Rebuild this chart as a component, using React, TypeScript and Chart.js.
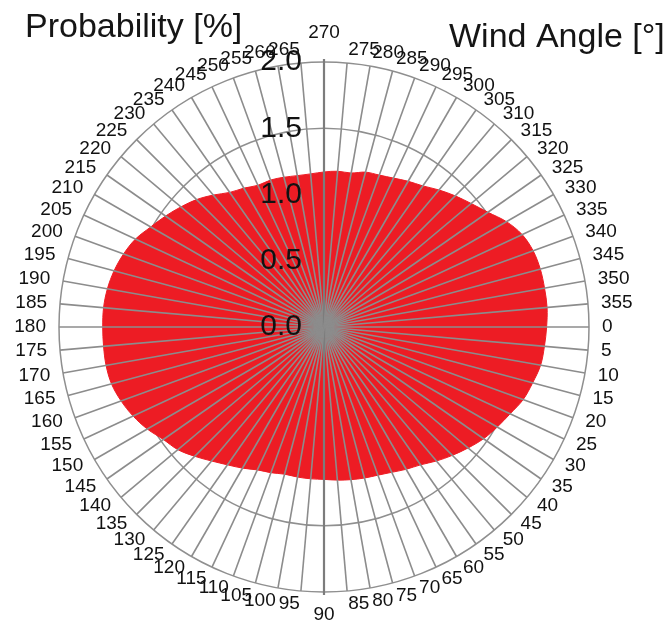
import React, { useEffect, useRef } from 'react';
import { Chart, registerables } from 'chart.js';

Chart.register(...registerables);

// Wind direction sectors, every 5 degrees, 0 pointing right and turning clockwise
const windAngles: string[] = [
  '0', '5', '10', '15', '20', '25', '30', '35', '40', '45', '50', '55',
  '60', '65', '70', '75', '80', '85', '90', '95', '100', '105', '110', '115',
  '120', '125', '130', '135', '140', '145', '150', '155', '160', '165', '170', '175',
  '180', '185', '190', '195', '200', '205', '210', '215', '220', '225', '230', '235',
  '240', '245', '250', '255', '260', '265', '270', '275', '280', '285', '290', '295',
  '300', '305', '310', '315', '320', '325', '330', '335', '340', '345', '350', '355',
];

// Probability of each wind direction [%]
const probability: number[] = [
  1.68, 1.67, 1.66, 1.63, 1.60, 1.55, 1.51, 1.47, 1.42, 1.37, 1.32, 1.27,
  1.24, 1.21, 1.19, 1.18, 1.17, 1.16, 1.15, 1.15, 1.15, 1.15, 1.17, 1.19,
  1.23, 1.27, 1.32, 1.38, 1.44, 1.48, 1.54, 1.59, 1.63, 1.66, 1.67, 1.67,
  1.67, 1.67, 1.66, 1.64, 1.61, 1.57, 1.51, 1.46, 1.41, 1.36, 1.30, 1.24,
  1.21, 1.18, 1.18, 1.17, 1.16, 1.16, 1.17, 1.18, 1.18, 1.21, 1.22, 1.24,
  1.27, 1.30, 1.35, 1.40, 1.45, 1.51, 1.59, 1.65, 1.68, 1.69, 1.69, 1.69,
];

// Radial axis
const radialTicks: number[] = [0, 0.5, 1.0, 1.5, 2.0];
const radialTickLabels: string[] = ['0.0', '0.5', '1.0', '1.5', '2.0'];

const radialTitle = 'Probability [%]';
const angleTitle = 'Wind Angle [°]';

const FONT = '"Liberation Sans", Arial, Helvetica, sans-serif';

const roseOverlay = {
  id: 'roseOverlay',
  afterDatasetsDraw(chart: any) {
    const r = chart.scales.r;
    const ctx: CanvasRenderingContext2D = chart.ctx;
    const cx = r.xCenter;
    const cy = r.yCenter;
    const R = r.drawingArea;
    const labels: string[] = chart.data.labels;

    ctx.save();

    // spokes over the filled area
    labels.forEach((lab, i) => {
      const axis = lab === '90' || lab === '270';
      const p = r.getPointPosition(i, axis ? R + 3 : R);
      ctx.strokeStyle = axis ? '#7c7c7c' : '#8c8c8c';
      ctx.lineWidth = axis ? 2.2 : 1.6;
      ctx.beginPath();
      ctx.moveTo(cx, cy);
      ctx.lineTo(p.x, p.y);
      ctx.stroke();
    });

    // direction labels around the rim
    ctx.font = `19px ${FONT}`;
    ctx.fillStyle = '#111';
    ctx.textBaseline = 'middle';
    labels.forEach((lab, i) => {
      const p = r.getPointPosition(i, R + 13);
      const c = Math.cos(p.angle);
      if (Math.abs(c) < 1e-6) {
        const below = Math.sin(p.angle) > 0;
        const q = r.getPointPosition(i, R + (below ? 23 : 29));
        ctx.textAlign = 'center';
        ctx.fillText(lab, q.x, q.y);
      } else {
        ctx.textAlign = c > 0 ? 'left' : 'right';
        ctx.fillText(lab, p.x, p.y);
      }
    });

    // radial value labels along the vertical axis
    ctx.font = `30px ${FONT}`;
    ctx.fillStyle = '#111';
    ctx.textAlign = 'right';
    ctx.textBaseline = 'middle';
    radialTicks.forEach((v, k) => {
      const y = cy - r.getDistanceFromCenterForValue(v);
      ctx.fillText(radialTickLabels[k], cx - 22, y);
    });

    // axis titles
    ctx.font = `34px ${FONT}`;
    ctx.fillStyle = '#151515';
    ctx.textAlign = 'left';
    ctx.textBaseline = 'alphabetic';
    ctx.fillText(radialTitle, 25, 37);
    ctx.fillText(angleTitle, 449, 47);

    ctx.restore();
  },
};

export default function App() {
  const canvasRef = useRef<HTMLCanvasElement | null>(null);

  useEffect(() => {
    const canvas = canvasRef.current;
    if (!canvas) return;
    const chart = new Chart(canvas, {
      type: 'radar',
      data: {
        labels: windAngles,
        datasets: [
          {
            label: radialTitle,
            data: probability,
            fill: 'origin',
            backgroundColor: 'rgb(237, 28, 36)',
            borderColor: 'rgb(237, 28, 36)',
            borderWidth: 1,
            pointRadius: 0,
            pointHoverRadius: 0,
            tension: 0.35,
          },
        ],
      },
      options: {
        responsive: false,
        devicePixelRatio: 1,
        animation: false,
        events: [],
        layout: { padding: { left: 59, top: 62, right: 79, bottom: 40 } },
        plugins: {
          legend: { display: false },
          tooltip: { enabled: false },
        },
        scales: {
          r: {
            type: 'radialLinear',
            min: 0,
            max: 2,
            startAngle: 90,
            ticks: { display: false, stepSize: 0.5 },
            pointLabels: { display: false },
            angleLines: { display: false },
            grid: { circular: true, color: '#8f8f8f', lineWidth: 1.5 },
          },
        },
      },
      plugins: [roseOverlay],
    });
    return () => chart.destroy();
  }, []);

  return (
    <div style={{ position: 'absolute', left: 0, top: 0, width: 668, height: 632, background: '#fff' }}>
      <canvas ref={canvasRef} width={668} height={632} style={{ display: 'block' }} />
    </div>
  );
}
